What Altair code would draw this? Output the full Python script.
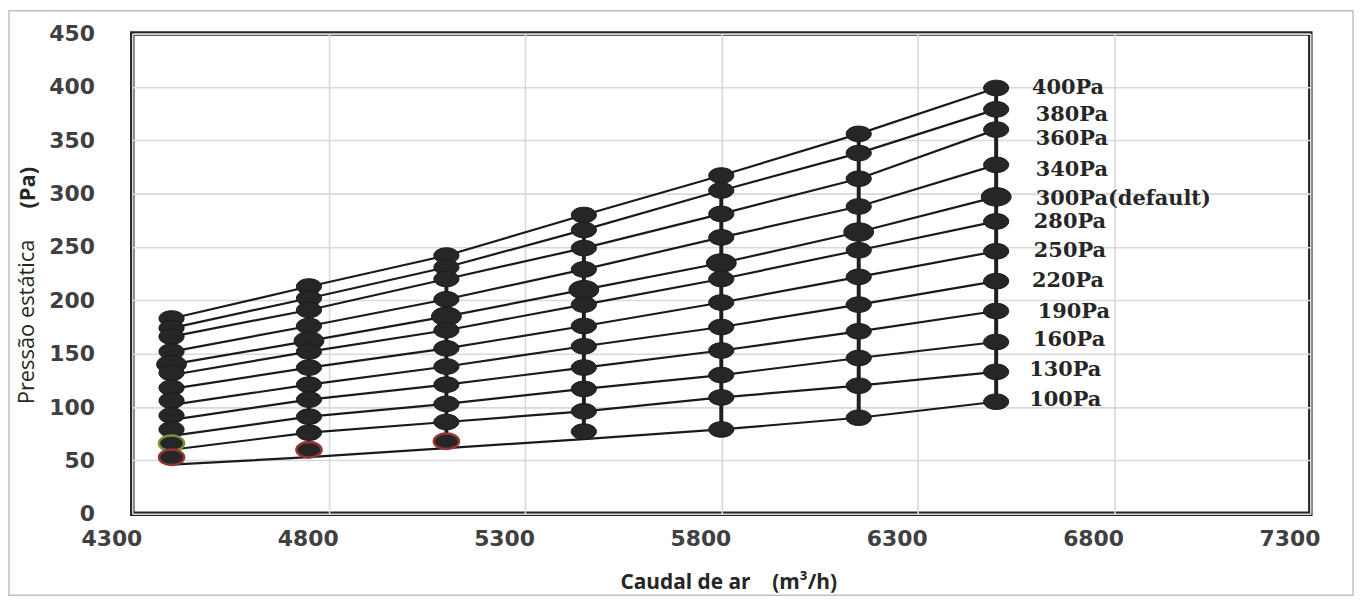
import altair as alt
import pandas as pd

# ---------------- data ----------------
flow = [4400, 4750, 5100, 5450, 5800, 6150, 6500]
series = ["400Pa", "380Pa", "360Pa", "340Pa", "300Pa(default)", "280Pa",
          "250Pa", "220Pa", "190Pa", "160Pa", "130Pa", "100Pa"]

p400 = [183, 213, 242, 280, 317, 356, 399]
p380 = [174, 202, 231, 266, 303, 338, 379]
p360 = [166, 191, 220, 249, 281, 314, 360]
p340 = [152, 176, 201, 229, 259, 288, 327]
p300 = [140, 162, 185, 210, 235, 264, 297]
p280 = [132, 152, 172, 196, 220, 247, 274]
p250 = [118, 137, 155, 176, 198, 222, 246]
p220 = [106, 121, 138, 157, 175, 196, 218]
p190 = [92, 107, 121, 137, 153, 171, 190]
p160 = [79, 91, 103, 117, 130, 146, 161]
p130 = [66, 76, 86, 96, 109, 120, 133]
p100 = [53, 60, 68, 77, 79, 90, 105]
marker_sets = [p400, p380, p360, p340, p300, p280, p250, p220, p190, p160, p130, p100]

# line value at the first flow for each series (lines start slightly lower than the markers)
line_first = [183, 174, 166, 152, 140, 130, 117, 102, 88, 73, 60, 46]
# the 100Pa line runs below its first markers
line_100 = [46, 53, 61.5, 70, 79, 90, 105]

# outlined markers: (series, flow index, ring colour name)
rings = [("100Pa", 0, "red"), ("100Pa", 1, "red"), ("100Pa", 2, "red"), ("130Pa", 0, "green")]

label_x = [6591, 6601, 6601, 6601, 6601, 6596, 6596, 6591, 6606, 6594, 6584, 6584]
label_y = [399, 374, 351, 322, 294.5, 273, 246.5, 218.5, 189.5, 162.5, 135, 106.5]

x_ticks = [4300, 4800, 5300, 5800, 6300, 6800, 7300]
y_ticks = [0, 50, 100, 150, 200, 250, 300, 350, 400, 450]

# ---------------- tables ----------------
ring_lookup = {(s, i): c for s, i, c in rings}
mrows, lrows = [], []
for s, vals, lf in zip(series, marker_sets, line_first):
    for i, (f, v) in enumerate(zip(flow, vals)):
        mrows.append({"series": s, "flow": f, "p": v, "ring": ring_lookup.get((s, i), "none")})
        if s == "100Pa":
            lv = line_100[i]
        else:
            lv = lf if i == 0 else v
        lrows.append({"series": s, "flow": f, "p": lv, "order": i})
markers = pd.DataFrame(mrows)
lines = pd.DataFrame(lrows)
labels = pd.DataFrame({"text": series, "x": label_x, "y": label_y})

xs = alt.Scale(domain=[4300, 7300], nice=False, zero=False)
ys = alt.Scale(domain=[0, 450], nice=False, zero=True)

NB = "\u00a0"
ellipse = "M-1,0A1,0.62,0,1,1,1,0A1,0.62,0,1,1,-1,0Z"

x_axis = alt.Axis(values=x_ticks, format="d", title=None, domain=False, ticks=False, grid=True,
                  gridColor="#d9d9d9", gridWidth=1.6, labelFont="DejaVu Sans",
                  labelFontWeight="bold", labelFontSize=22, labelColor="#404040",
                  labelOffset=-21, labelPadding=15, labelFlush=False, labelOverlap=False)
y_axis = alt.Axis(values=y_ticks, format="d", title=None, domain=False, ticks=False, grid=True,
                  gridColor="#d9d9d9", gridWidth=1.6, labelFont="DejaVu Sans",
                  labelFontWeight="bold", labelFontSize=22, labelColor="#404040",
                  labelPadding=38, labelOverlap=False)

base_m = alt.Chart(markers)

rules = base_m.mark_rule(strokeWidth=4, color="#1f1f1f").encode(
    x=alt.X("flow:Q", scale=xs, axis=x_axis),
    y=alt.Y("min(p):Q", scale=ys, axis=y_axis),
    y2="max(p):Q",
)

line_layer = alt.Chart(lines).mark_line(strokeWidth=2.2, color="#1a1a1a").encode(
    x=alt.X("flow:Q", scale=xs),
    y=alt.Y("p:Q", scale=ys),
    detail="series:N",
    order="order:Q",
)

points = base_m.mark_point(shape=ellipse, filled=True, fill="#262626", opacity=1).encode(
    x=alt.X("flow:Q", scale=xs),
    y=alt.Y("p:Q", scale=ys),
    stroke=alt.Stroke("ring:N", scale=alt.Scale(domain=["none", "red", "green"],
                                                range=["#1a1a1a", "#943634", "#77933c"]),
                      legend=None),
    strokeWidth=alt.condition("datum.ring != 'none'", alt.value(2.5), alt.value(1)),
    size=alt.condition("datum.series == '300Pa(default)'", alt.value(900), alt.value(640)),
)

text_layer = alt.Chart(labels).mark_text(
    align="left", baseline="middle", font="DejaVu Serif", fontWeight="bold",
    fontSize=21, color="#262626"
).encode(
    x=alt.X("x:Q", scale=xs),
    y=alt.Y("y:Q", scale=ys),
    text="text:N",
)

one = pd.DataFrame({"k": [0]})
border = alt.Chart(one).mark_rect(fillOpacity=0, stroke="#c0c0c0", strokeWidth=1.5).encode(
    x=alt.value(-124), x2=alt.value(1228), y=alt.value(-23), y2=alt.value(565)
)

x_title = alt.Chart(one).mark_text(
    font="Open Sans", fontWeight="bold", fontSize=21, color="#262626",
    align="center", baseline="middle"
).encode(x=alt.value(600), y=alt.value(553),
         text=alt.value("Caudal de ar" + NB * 4 + "(m³/h)"))

y_title1 = alt.Chart(one).mark_text(
    font="Open Sans", fontSize=22, color="#262626", angle=270,
    align="center", baseline="middle"
).encode(x=alt.value(-106), y=alt.value(290), text=alt.value("Pressão estática"))

y_title2 = alt.Chart(one).mark_text(
    font="Open Sans", fontWeight="bold", fontSize=22, color="#262626", angle=270,
    align="center", baseline="middle"
).encode(x=alt.value(-105), y=alt.value(155), text=alt.value("(Pa)"))

chart = alt.layer(
    border, rules, line_layer, points, text_layer, x_title, y_title1, y_title2
).properties(
    width=1185, height=483,
    padding={"left": 125, "top": 24, "right": 52, "bottom": 83},
    autosize=alt.AutoSizeParams(type="none"),
    background="white",
).configure_view(stroke="#262626", strokeWidth=4.5)

chart.save("out.html", embed_options={"renderer": "svg", "actions": False})
